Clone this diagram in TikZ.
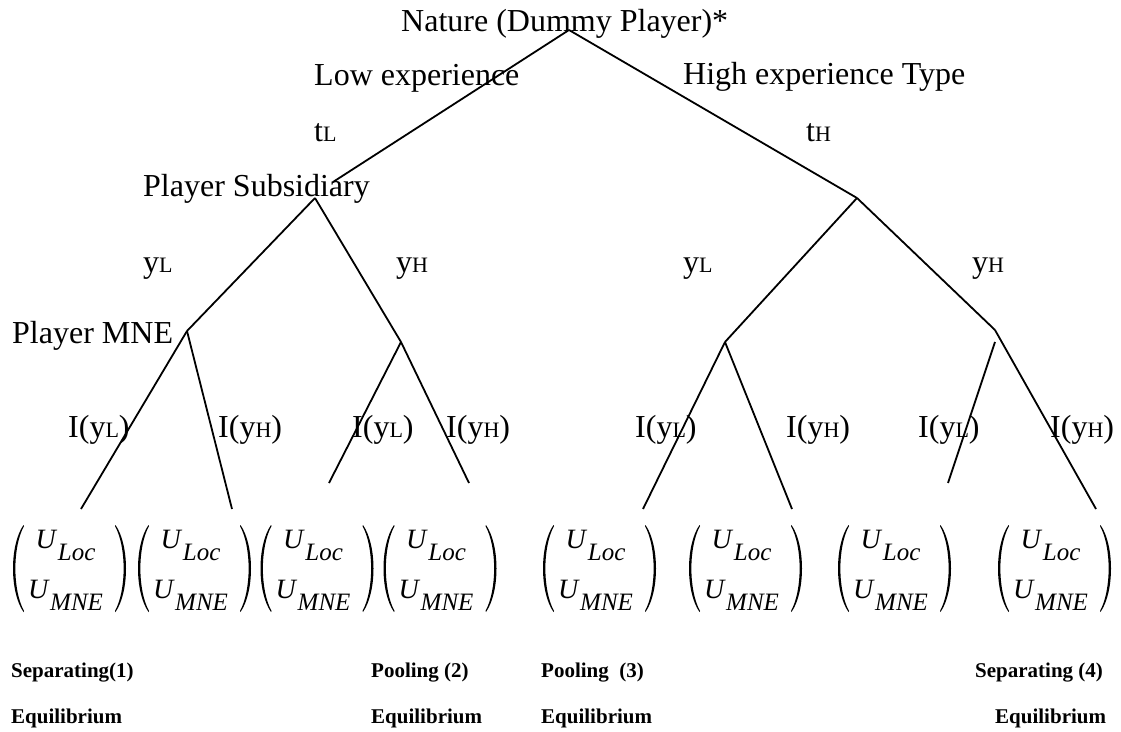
\documentclass[tikz,border=0pt]{standalone}
\usepackage{fontspec}
\setmainfont{Liberation Serif}
\newcommand{\mainsz}{\fontsize{32bp}{38bp}\selectfont}
\newcommand{\subsz}{\fontsize{22bp}{24bp}\selectfont}
\newcommand{\lowsub}[1]{{\subsz #1}}
\newcommand{\Ubig}{\fontsize{28bp}{30bp}\selectfont\itshape}
\newcommand{\Usub}{\fontsize{25bp}{27bp}\selectfont\itshape}
\newcommand{\eqsz}{\fontsize{21bp}{24bp}\selectfont\bfseries}
\tikzset{
  lbl/.style={anchor=base west, inner sep=0pt, font=\mainsz},
  eqlbl/.style={anchor=base west, inner sep=0pt, font=\eqsz},
  edge/.style={line width=1.8bp},
  payoff/.style={anchor=base, inner sep=0pt}
}
\begin{document}
\begin{tikzpicture}[x=1bp,y=-1bp]
\useasboundingbox (0,0) rectangle (1121,732);
% vertices
\coordinate (root) at (569,30);
\coordinate (tLend) at (333,182);
\coordinate (S) at (315,198);
\coordinate (H) at (857,198);
\coordinate (M1) at (187,331);
\coordinate (M2) at (401,342);
\coordinate (M3) at (725,342);
\coordinate (M4) at (995,330);
\coordinate (M4b) at (995,342);
\coordinate (e1) at (81,509);
\coordinate (e2) at (232,509);
\coordinate (e3) at (329,483);
\coordinate (e4) at (469,483);
\coordinate (e5) at (643,509);
\coordinate (e6) at (792,509);
\coordinate (e7) at (948,483);
\coordinate (e8) at (1096,509);
% edges
\draw[edge] (root) -- (tLend);
\draw[edge] (root) -- (H);
\draw[edge] (S) -- (M1);
\draw[edge] (S) -- (M2);
\draw[edge] (H) -- (M3);
\draw[edge] (H) -- (M4);
\draw[edge] (M1) -- (e1);
\draw[edge] (M1) -- (e2);
\draw[edge] (M2) -- (e3);
\draw[edge] (M2) -- (e4);
\draw[edge] (M3) -- (e5);
\draw[edge] (M3) -- (e6);
\draw[edge] (M4b) -- (e7);
\draw[edge] (M4) -- (e8);
% labels
\node[lbl] (nature) at (401,32) {Nature (Dummy Player)*};
\node[lbl] (lowexp) at (314,86) {Low experience};
\node[lbl] (highexp) at (683,85) {High experience Type};
\node[lbl] (tL) at (314,142) {t\lowsub{L}};
\node[lbl] (tH) at (806,142) {t\lowsub{H}};
\node[lbl] (psub) at (143,197) {Player Subsidiary};
\node[lbl] (yL1) at (143,272) {y\lowsub{L}};
\node[lbl] (yH1) at (396,272) {y\lowsub{H}};
\node[lbl] (yL2) at (683,272) {y\lowsub{L}};
\node[lbl] (yH2) at (972,272) {y\lowsub{H}};
\node[lbl] (pmne) at (12,343) {Player MNE};
\node[lbl] (i1) at (68,437) {I(y\lowsub{L})};
\node[lbl] (i2) at (218,437) {I(y\lowsub{H})};
\node[lbl] (i3) at (352,437) {I(y\lowsub{L})};
\node[lbl] (i4) at (446,437) {I(y\lowsub{H})};
\node[lbl] (i5) at (635,437) {I(y\lowsub{L})};
\node[lbl] (i6) at (786,437) {I(y\lowsub{H})};
\node[lbl] (i7) at (918,437) {I(y\lowsub{L})};
\node[lbl] (i8) at (1050,437) {I(y\lowsub{H})};
% payoff vectors
\foreach \cx [count=\i] in {69.5,194.5,317,440,599.5,745.5,894.5,1054.5} {
  \fill[shift={(\cx,0)}] (-46,525) .. controls (-60,545) and (-60,592) .. (-46,612)
     -- (-45.5,611) .. controls (-57,590) and (-57,547) .. (-45.5,526) -- cycle;
  \fill[shift={(\cx,0)}] (46,525) .. controls (60,545) and (60,592) .. (46,612)
     -- (45.5,611) .. controls (57,590) and (57,547) .. (45.5,526) -- cycle;
  \node[payoff] (ua\i) at (\cx-4,548) {\Ubig U\kern2bp\raisebox{-12bp}{\Usub Loc}};
  \node[payoff] (ub\i) at (\cx-4,598) {\Ubig U\kern2bp\raisebox{-12bp}{\Usub MNE}};
}
% equilibrium labels
\node[eqlbl] (sep1) at (11,677) {Separating(1)};
\node[eqlbl] (eq1) at (11,723) {Equilibrium};
\node[eqlbl] (pool2) at (371,677) {Pooling (2)};
\node[eqlbl] (eq2) at (371,723) {Equilibrium};
\node[eqlbl] (pool3) at (541,677) {Pooling\ \ (3)};
\node[eqlbl] (eq3) at (541,723) {Equilibrium};
\node[eqlbl] (sep4) at (975,677) {Separating (4)};
\node[eqlbl] (eq4) at (995,723) {Equilibrium};
\end{tikzpicture}
\end{document}
